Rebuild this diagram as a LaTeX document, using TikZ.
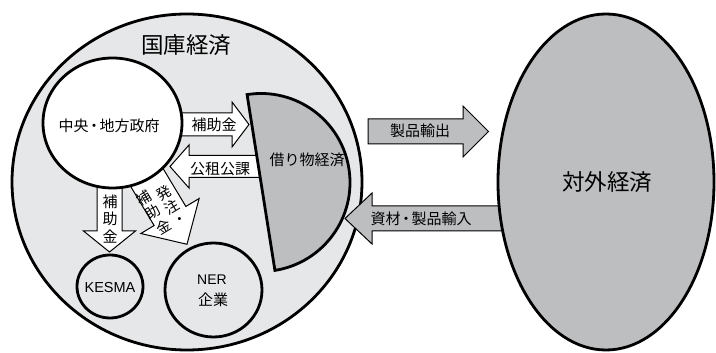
\documentclass[tikz,border=0pt]{standalone}
\usepackage{fontspec}
\setmainfont{Liberation Sans}
\newfontfamily\jp{Noto Sans CJK JP}
\usetikzlibrary{shapes.geometric}
\definecolor{bgl}{HTML}{E6E7E8}
\definecolor{gr}{HTML}{BDBEC0}
\newcommand{\ndot}{\kern-2pt・\kern-2pt}
\tikzset{
  x=1pt,y=1pt,
  bigshape/.style={draw=black,line width=2.8pt,ellipse,inner sep=0pt},
  blockarrow/.style={draw=black,line width=1pt,fill=white,line join=miter},
  grayarrow/.style={blockarrow,fill=gr},
  jpl/.style={font=\jp\fontsize{15}{15}\selectfont,inner sep=0pt},
  jps/.style={font=\jp\fontsize{14.5}{14.5}\selectfont,inner sep=0pt},
  jpb/.style={font=\jp\fontsize{22.5}{22.5}\selectfont,inner sep=0pt},
  lat/.style={font=\fontsize{14.5}{14.5}\selectfont,inner sep=0pt}
}
\begin{document}
\begin{tikzpicture}
\useasboundingbox (0,0) rectangle (716,353);
% national economy
\node[bigshape,fill=bgl,minimum width=350,minimum height=336] (koku) at (187,171) {};
% 公租公課 arrow (behind half disc)
\draw[blockarrow] (270,197.5) -- (189,197.5) -- (189,208) -- (170,186.5) -- (189,165) -- (189,175.5) -- (270,175.5) -- cycle;
% borrowed economy half disc
\coordinate (hc) at (261,170.5);
\draw[line width=2.8pt,fill=gr,line join=miter] (hc) ++(99:89) arc[start angle=99,end angle=-81,radius=89] -- cycle;
% 補助金 right arrow
\draw[blockarrow] (175,240) -- (232,240) -- (232,251) -- (249,228.5) -- (232,206) -- (232,217) -- (175,217) -- cycle;
% 補助金 down arrow
\draw[blockarrow] (97,190) -- (97,122) -- (83.5,122) -- (109.5,101) -- (135.5,122) -- (122,122) -- (122,190) -- cycle;
% 発注・補助金 diagonal arrow
\begin{scope}[shift={(170,137)},rotate=-59]
\draw[blockarrow] (-75,18.5) -- (0,18.5) -- (0,34) -- (33,0) -- (0,-34) -- (0,-18.5) -- (-75,-18.5) -- cycle;
\node[jps,rotate=31] (d1) at (-23,6.5) {発};
\node[jps,rotate=31] (d2) at (-6.5,6.5) {注};
\node[jps,rotate=31] (d3) at (10,7) {・};
\node[jps,rotate=31] (d4) at (-29,-12.5) {補};
\node[jps,rotate=31] (d5) at (-12.5,-12.5) {助};
\node[jps,rotate=31] (d6) at (5.5,-11) {金};
\end{scope}
% government circle
\node[bigshape,fill=white,minimum width=139,minimum height=130] (gov) at (112.5,230) {};
\node[bigshape,fill=bgl,minimum width=66,minimum height=63] (kesma) at (110,66.5) {};
\node[bigshape,fill=bgl,minimum width=97,minimum height=94] (ner) at (213.5,63) {};
% export / import arrows
\draw[grayarrow] (368,234) -- (463,234) -- (463,247) -- (488.5,221.5) -- (463,196) -- (463,209) -- (368,209) -- cycle;
\draw[grayarrow] (520,147) -- (372,147) -- (372,160) -- (345,134.5) -- (372,109) -- (372,122) -- (520,122) -- cycle;
% foreign economy
\node[bigshape,fill=gr,minimum width=216,minimum height=336] (gai) at (606,171) {};
% texts
\node[jpb] (t1) at (186,308) {国庫経済};
\node[jpl] (t2) at (109,227) {中央\ndot 地方政府};
\node[jpl] (t3) at (214,228.5) {補助金};
\node[jpl] (t4) at (220,184.5) {公租公課};
\node[jpl] (t5) at (307,193) {借り物経済};
\node[jpl] (t6) at (110,151.5) {補};
\node[jpl] (t7) at (110,134) {助};
\node[jpl] (t8) at (110,116.5) {金};
\node[lat] (t9) at (110,65) {KESMA};
\node[lat,font=\fontsize{14}{14}\selectfont] (t10) at (212,73) {NER};
\node[jpl] (t11) at (213,53) {企業};
\node[jpl] (t12) at (420,222) {製品輸出};
\node[jpl] (t13) at (421,134) {資材\ndot 製品輸入};
\node[jpb] (t14) at (607,171) {対外経済};
\end{tikzpicture}
\end{document}
